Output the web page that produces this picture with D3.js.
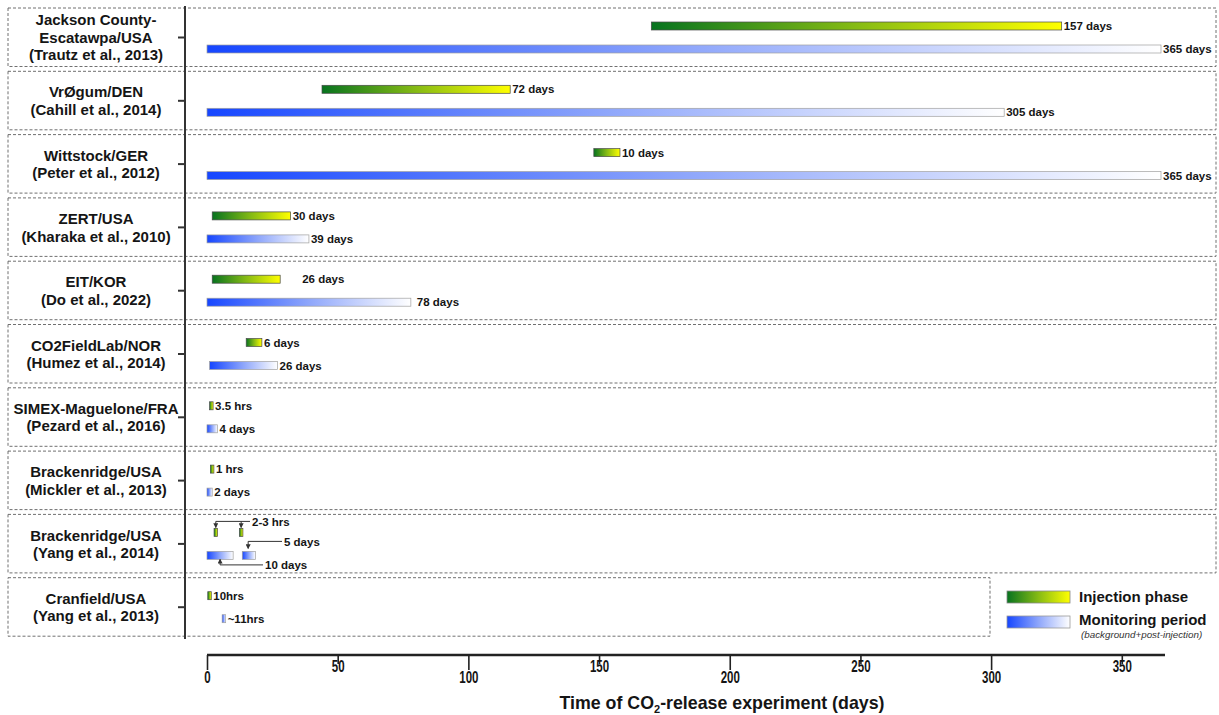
<!DOCTYPE html>
<html>
<head>
<meta charset="utf-8">
<script src="https://cdn.jsdelivr.net/npm/d3@7"></script>
<style>
  html, body { margin: 0; padding: 0; background: #fff; }
  svg { display: block; font-family: "Liberation Sans", Arial, sans-serif; }
</style>
</head>
<body>
<svg id="chart" width="1219" height="715"></svg>
<script>
// ---- Sites (one row each) ----
const siteNames = [
  ["Jackson County-", "Escatawpa/USA"],
  ["VrØgum/DEN"],
  ["Wittstock/GER"],
  ["ZERT/USA"],
  ["EIT/KOR"],
  ["CO2FieldLab/NOR"],
  ["SIMEX-Maguelone/FRA"],
  ["Brackenridge/USA"],
  ["Brackenridge/USA"],
  ["Cranfield/USA"]
];
const siteRefs = [
  "(Trautz et al., 2013)",
  "(Cahill et al., 2014)",
  "(Peter et al., 2012)",
  "(Kharaka et al., 2010)",
  "(Do et al., 2022)",
  "(Humez et al., 2014)",
  "(Pezard et al., 2016)",
  "(Mickler et al., 2013)",
  "(Yang et al., 2014)",
  "(Yang et al., 2013)"
];

// ---- Injection phases (days) ----
const injectionRow   = [0, 1, 2, 3, 4, 5, 6, 7, 8, 8, 9];
const injectionStart = [170, 44, 148, 2, 2, 15, 1, 1.3, 2.7, 12.4, 0.3];
const injectionDays  = [157, 72, 10, 30, 26, 6, 0.146, 0.042, 0.104, 0.104, 0.417];
const injectionLabel = ["157 days", "72 days", "10 days", "30 days", "26 days", "6 days",
                        "3.5 hrs", "1 hrs", "", "", "10hrs"];

// ---- Monitoring periods (days) ----
const monitoringRow   = [0, 1, 2, 3, 4, 5, 6, 7, 8, 8, 9];
const monitoringStart = [0, 0, 0, 0, 0, 1, 0, 0, 0, 13.5, 5.8];
const monitoringDays  = [365, 305, 365, 39, 78, 26, 4, 2, 10, 5, 0.46];
const monitoringLabel = ["365 days", "305 days", "365 days", "39 days", "78 days", "26 days",
                         "4 days", "2 days", "", "", "~11hrs"];

// ---- Axis ----
const xTicks = [0, 50, 100, 150, 200, 250, 300, 350];
const xMax = 365;

// ---- Layout ----
const svg = d3.select("#chart");
const boxLeft = 8, boxRight = 1216, lastBoxRight = 990;
const axisX = 185;
const x = d3.scaleLinear().domain([0, xMax]).range([207, 1161]);
const rowTop = d3.scaleLinear().domain([0, 10]).range([8, 641]);
const boxH = 58.5;
const barH = 8;
const injOff = 18, monOff = 41;   // bar centres below row top
const minW = 3.5;                 // keep hour-long phases visible
const labelNudge = { inj4: 20, mon4: 4 };

// gradients
const defs = svg.append("defs");
const gInj = defs.append("linearGradient").attr("id", "gInj");
gInj.append("stop").attr("offset", "0%").attr("stop-color", "#07731f");
gInj.append("stop").attr("offset", "50%").attr("stop-color", "#86bb14");
gInj.append("stop").attr("offset", "100%").attr("stop-color", "#ffff00");
const gMon = defs.append("linearGradient").attr("id", "gMon");
gMon.append("stop").attr("offset", "0%").attr("stop-color", "#1646ff");
gMon.append("stop").attr("offset", "50%").attr("stop-color", "#8ea6fb");
gMon.append("stop").attr("offset", "100%").attr("stop-color", "#ffffff");
const arrow = defs.append("marker").attr("id", "arrowHead")
  .attr("viewBox", "0 0 6 6").attr("refX", 5).attr("refY", 3)
  .attr("markerWidth", 5).attr("markerHeight", 5).attr("orient", "auto");
arrow.append("path").attr("d", "M0,0L6,3L0,6Z").attr("fill", "#333");

// row boxes
const rows = d3.range(siteNames.length);
svg.append("g").selectAll("rect").data(rows).join("rect")
  .attr("x", boxLeft)
  .attr("y", i => rowTop(i))
  .attr("width", i => (i === 9 ? lastBoxRight : boxRight) - boxLeft)
  .attr("height", boxH)
  .attr("fill", "none")
  .attr("stroke", "#707070")
  .attr("stroke-width", 1)
  .attr("stroke-dasharray", "3,2");

// y axis line + ticks
svg.append("line")
  .attr("x1", axisX).attr("x2", axisX)
  .attr("y1", 6).attr("y2", 639)
  .attr("stroke", "#333").attr("stroke-width", 2);
svg.append("g").selectAll("line").data(rows).join("line")
  .attr("x1", axisX - 7).attr("x2", axisX)
  .attr("y1", i => rowTop(i) + 29.5).attr("y2", i => rowTop(i) + 29.5)
  .attr("stroke", "#333").attr("stroke-width", 2);

// site labels
const labels = svg.append("g")
  .attr("font-weight", "bold").attr("font-size", 15).attr("fill", "#151515")
  .attr("text-anchor", "middle");
rows.forEach(i => {
  const lines = siteNames[i].concat([siteRefs[i]]);
  const lh = 17.5;
  const c = rowTop(i) + 29.5;
  lines.forEach((t, k) => {
    labels.append("text")
      .attr("x", 96)
      .attr("y", c + (k - (lines.length - 1) / 2) * lh)
      .attr("dy", "0.36em")
      .text(t);
  });
});

// bars
function drawBars(cls, rowArr, startArr, daysArr, labelArr, off, fill, stroke, nudgeKey) {
  const g = svg.append("g").attr("class", cls);
  const idx = d3.range(rowArr.length);
  const w = i => Math.max(minW, x(startArr[i] + daysArr[i]) - x(startArr[i]));
  g.selectAll("rect").data(idx).join("rect")
    .attr("x", i => x(startArr[i]))
    .attr("y", i => rowTop(rowArr[i]) + off - barH / 2)
    .attr("width", w)
    .attr("height", barH)
    .attr("fill", fill)
    .attr("stroke", stroke)
    .attr("stroke-width", 0.7);
  g.selectAll("text").data(idx.filter(i => labelArr[i])).join("text")
    .attr("x", i => x(startArr[i]) + w(i) + 2 + (labelNudge[nudgeKey + rowArr[i]] || 0))
    .attr("y", i => rowTop(rowArr[i]) + off)
    .attr("dy", "0.36em")
    .attr("font-size", 11.5).attr("font-weight", "bold").attr("fill", "#151515")
    .text(i => labelArr[i]);
  return w;
}
const wInj = drawBars("injection", injectionRow, injectionStart, injectionDays, injectionLabel,
  injOff, "url(#gInj)", "#4a4a4a", "inj");
const wMon = drawBars("monitoring", monitoringRow, monitoringStart, monitoringDays, monitoringLabel,
  monOff, "url(#gMon)", "#a0a0a0", "mon");

// call-outs for the Yang et al. (2014) row
const ann = svg.append("g").attr("stroke", "#333").attr("stroke-width", 1).attr("fill", "none");
const annText = svg.append("g").attr("font-size", 11.5).attr("font-weight", "bold").attr("fill", "#151515");
const t8 = rowTop(8);
const m1 = x(injectionStart[8]) + wInj(8) / 2;
const m2 = x(injectionStart[9]) + wInj(9) / 2;
const yA = t8 + 7;
ann.append("line").attr("x1", m1).attr("x2", 250).attr("y1", yA).attr("y2", yA);
[m1, m2].forEach(mx => {
  ann.append("line").attr("x1", mx).attr("x2", mx).attr("y1", yA).attr("y2", t8 + 13)
    .attr("marker-end", "url(#arrowHead)");
});
annText.append("text").attr("x", 252).attr("y", yA).attr("dy", "0.36em").text("2-3 hrs");

const b2 = x(monitoringStart[9]) + wMon(9) * 0.45;
const yB = t8 + 27;
ann.append("path").attr("d", `M282,${yB}H${b2}V${t8 + 34}`).attr("marker-end", "url(#arrowHead)");
annText.append("text").attr("x", 284).attr("y", yB).attr("dy", "0.36em").text("5 days");

const b1 = x(monitoringStart[8]) + wMon(8) * 0.5;
const yC = t8 + 50.5;
ann.append("path").attr("d", `M263,${yC}H${b1}V${t8 + 45}`).attr("marker-end", "url(#arrowHead)");
annText.append("text").attr("x", 265).attr("y", yC).attr("dy", "0.36em").text("10 days");

// x axis with staggered tick labels
const axisY = 655;
const xAxis = d3.axisBottom(x).tickValues(xTicks).tickSizeOuter(0).tickSize(15).tickPadding(2);
const gx = svg.append("g").attr("transform", `translate(0,${axisY})`).call(xAxis);
gx.select(".domain").attr("stroke", "#222").attr("stroke-width", 2.5)
  .attr("d", `M${x(0)},0H${x(xMax) + 4}`);
gx.selectAll(".tick line").attr("stroke", "#222").attr("stroke-width", 1.6)
  .attr("y2", (d, i) => (i % 2 === 0 ? 15 : 9));
gx.selectAll(".tick text")
  .attr("font-family", "'Liberation Sans', Arial, sans-serif")
  .attr("font-size", 16).attr("font-weight", "bold").attr("fill", "#151515")
  .attr("transform", "scale(0.72,1)")
  .attr("y", (d, i) => (i % 2 === 0 ? 17 : 6));

const title = svg.append("text")
  .attr("x", 722).attr("y", 709)
  .attr("text-anchor", "middle")
  .attr("font-size", 17.8).attr("font-weight", "bold").attr("fill", "#151515");
title.append("tspan").text("Time of CO");
title.append("tspan").attr("font-size", 11).attr("dy", 4).text("2");
title.append("tspan").attr("dy", -4).text("-release experiment (days)");

// legend
const leg = svg.append("g");
leg.append("rect").attr("x", 1007).attr("y", 591).attr("width", 63).attr("height", 12)
  .attr("fill", "url(#gInj)").attr("stroke", "#888").attr("stroke-width", 0.8);
leg.append("rect").attr("x", 1007).attr("y", 616).attr("width", 63).attr("height", 12)
  .attr("fill", "url(#gMon)").attr("stroke", "#999").attr("stroke-width", 0.8);
leg.append("text").attr("x", 1079).attr("y", 597).attr("dy", "0.36em")
  .attr("font-size", 15).attr("font-weight", "bold").attr("fill", "#151515").text("Injection phase");
leg.append("text").attr("x", 1079).attr("y", 620).attr("dy", "0.36em")
  .attr("font-size", 15).attr("font-weight", "bold").attr("fill", "#151515").text("Monitoring period");
leg.append("text").attr("x", 1081).attr("y", 634).attr("dy", "0.36em")
  .attr("font-size", 9.8).attr("font-style", "italic").attr("fill", "#333")
  .text("(background+post-injection)");
</script>
</body>
</html>
